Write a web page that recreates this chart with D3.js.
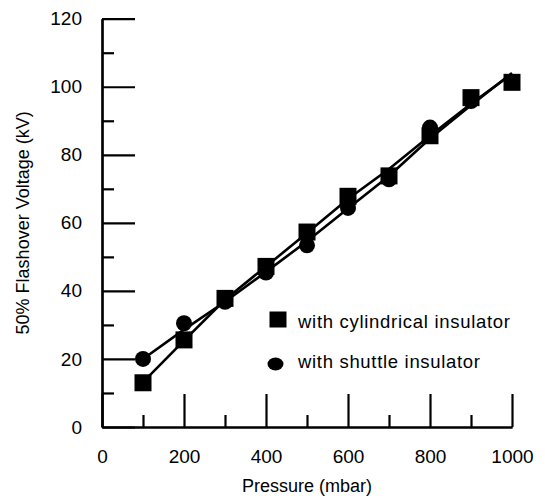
<!DOCTYPE html>
<html>
<head>
<meta charset="utf-8">
<script src="https://cdn.jsdelivr.net/npm/d3@7"></script>
<style>
  body { margin: 0; background: #fff; }
  svg text { font-family: "Liberation Sans", Arial, sans-serif; fill: #000; }
</style>
</head>
<body>
<div id="chart"></div>
<script>
// data
var pressure = [100, 200, 300, 400, 500, 600, 700, 800, 900, 1000]
var cylindrical = [13, 25.6, 37.8, 47.2, 57.3, 67.8, 73.8, 85.6, 96.8, 101.3]
var shuttle = [20, 30.5, 36.8, 45.4, 53.4, 64.4, 72.8, 88.0, 95.8, 101.5]
// drawn lines (fitted, not through every marker)
var cylindricalFit = [13.2, 25.4, 37.4, 47.2, 57.0, 67.0, 75.8, 85.6, 95.0, 103.8]
var shuttleFit = [20, 28.6, 36.8, 45.6, 54.6, 64.2, 73.8, 84.8, 94.6, 104.0]

var xMajor = [0, 200, 400, 600, 800, 1000]
var xMinor = [100, 300, 500, 700, 900]
var yMajor = [0, 20, 40, 60, 80, 100, 120]
var yMinor = [10, 30, 50, 70, 90, 110]

var legendLabels = ["with cylindrical insulator", "with shuttle insulator"]
var legendWidths = [212, 182]

var width = 545, height = 499
var margin = { top: 18.7, right: 33, bottom: 72, left: 102 }

var svg = d3.select("#chart")
    .append("svg")
    .attr("width", width)
    .attr("height", height)

var x = d3.scaleLinear()
    .domain([0, 1000])
    .range([margin.left, width - margin.right])

var y = d3.scaleLinear()
    .domain([0, 120])
    .range([height - margin.bottom, margin.top])

// axes, ticks pointing inside
function styleAxis(g) {
    g.select(".domain").attr("stroke-width", 2.2)
    g.selectAll(".tick line").attr("stroke-width", 2.2)
    g.selectAll("text").style("font-size", "19px")
        .attr("font-family", "Liberation Sans, Arial, sans-serif")
}

svg.append("g")
    .attr("transform", "translate(0," + y(0) + ")")
    .call(d3.axisBottom(x).tickValues(xMinor).tickSize(-12).tickSizeOuter(0).tickFormat(""))
    .call(styleAxis)

svg.append("g")
    .attr("transform", "translate(0," + y(0) + ")")
    .call(d3.axisBottom(x).tickValues(xMajor).tickSize(-33).tickSizeOuter(0).tickPadding(23).tickFormat(d3.format("d")))
    .call(styleAxis)

svg.append("g")
    .attr("transform", "translate(" + x(0) + ",0)")
    .call(d3.axisLeft(y).tickValues(yMinor).tickSize(-12).tickSizeOuter(0).tickFormat(""))
    .call(styleAxis)

svg.append("g")
    .attr("transform", "translate(" + x(0) + ",0)")
    .call(d3.axisLeft(y).tickValues(yMajor).tickSize(-33).tickSizeOuter(0).tickPadding(20).tickFormat(d3.format("d")))
    .call(styleAxis)

// axis titles
svg.append("text")
    .attr("x", x(500))
    .attr("y", 492)
    .attr("text-anchor", "middle")
    .style("font-size", "18px")
    .text("Pressure (mbar)")

svg.append("text")
    .attr("transform", "translate(29," + y(60) + ") rotate(-90)")
    .attr("text-anchor", "middle")
    .style("font-size", "18px")
    .text("50% Flashover Voltage (kV)")

// lines
var line = d3.line()
    .x(function (d) { return x(d[0]) })
    .y(function (d) { return y(d[1]) })

svg.append("path")
    .datum(d3.zip(pressure, shuttleFit))
    .attr("d", line)
    .attr("fill", "none")
    .attr("stroke", "#000")
    .attr("stroke-width", 2.6)

svg.append("path")
    .datum(d3.zip(pressure, cylindricalFit))
    .attr("d", line)
    .attr("fill", "none")
    .attr("stroke", "#000")
    .attr("stroke-width", 2.6)

// markers
svg.selectAll(".dot")
    .data(d3.zip(pressure, shuttle))
    .enter()
    .append("circle")
    .attr("cx", function (d) { return x(d[0]) })
    .attr("cy", function (d) { return y(d[1]) })
    .attr("r", 8)
    .attr("fill", "#000")

var sq = 17
svg.selectAll(".sq")
    .data(d3.zip(pressure, cylindrical))
    .enter()
    .append("rect")
    .attr("x", function (d) { return x(d[0]) - sq / 2 })
    .attr("y", function (d) { return y(d[1]) - sq / 2 })
    .attr("width", sq)
    .attr("height", sq)
    .attr("fill", "#000")

// legend
var legend = svg.append("g")
legend.append("rect")
    .attr("x", 269.5).attr("y", 311.5)
    .attr("width", 17).attr("height", 16)
    .attr("fill", "#000")
legend.append("ellipse")
    .attr("cx", 275.5).attr("cy", 364)
    .attr("rx", 8).attr("ry", 6.5)
    .attr("fill", "#000")

legend.selectAll("text")
    .data(legendLabels)
    .enter()
    .append("text")
    .attr("x", 298)
    .attr("y", function (d, i) { return 328 + i * 40 })
    .attr("textLength", function (d, i) { return legendWidths[i] })
    .attr("lengthAdjust", "spacing")
    .style("font-size", "18.5px")
    .text(function (d) { return d })
</script>
</body>
</html>
